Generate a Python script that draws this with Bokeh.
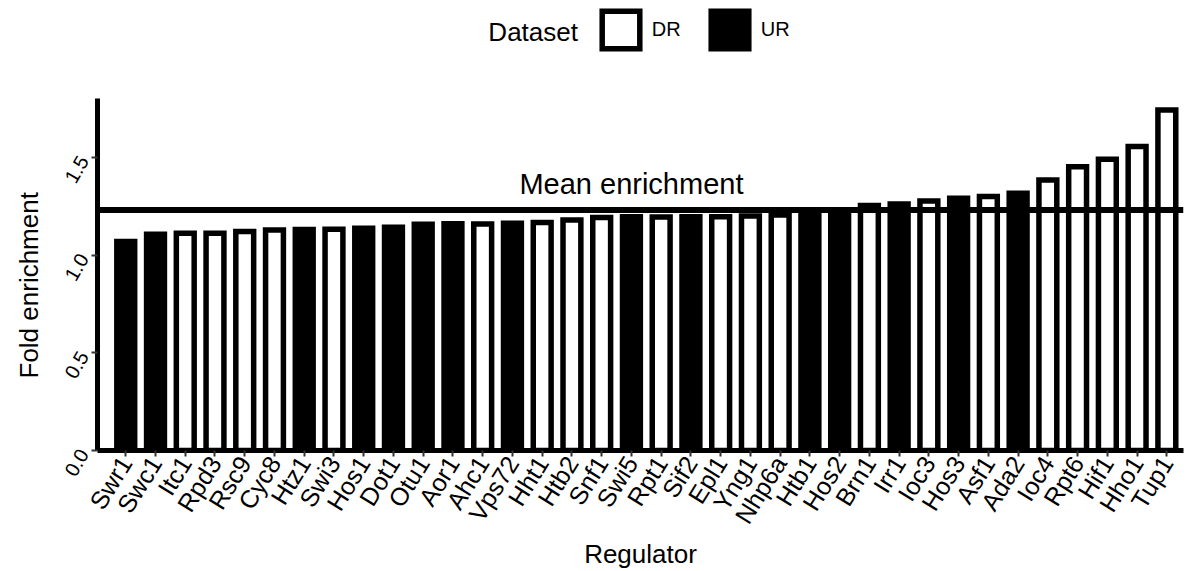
import math

from bokeh.embed import file_html
from bokeh.models import (ColumnDataSource, FixedTicker, Label, Legend, LegendItem,
                          NumeralTickFormatter, Range1d, Span, Title)
from bokeh.plotting import figure
from bokeh.resources import INLINE

# Regulators ordered by fold enrichment
regulators = ["Swr1", "Swc1", "Itc1", "Rpd3", "Rsc9", "Cyc8", "Htz1", "Swi3", "Hos1",
              "Dot1", "Otu1", "Aor1", "Ahc1", "Vps72", "Hht1", "Htb2", "Snf1", "Swi5",
              "Rpt1", "Sif2", "Epl1", "Yng1", "Nhp6a", "Htb1", "Hos2", "Brn1", "Irr1",
              "Ioc3", "Hos3", "Asf1", "Ada2", "Ioc4", "Rpt6", "Hif1", "Hho1", "Tup1"]

fold_enrichment = [1.069, 1.106, 1.111, 1.111, 1.120, 1.128, 1.130, 1.132, 1.137,
                   1.142, 1.157, 1.160, 1.159, 1.162, 1.166, 1.179, 1.192, 1.196,
                   1.194, 1.196, 1.196, 1.199, 1.204, 1.214, 1.219, 1.253, 1.261,
                   1.276, 1.290, 1.299, 1.316, 1.384, 1.452, 1.490, 1.555, 1.742]

dataset = ["UR", "UR", "DR", "DR", "DR", "DR", "UR", "DR", "UR",
           "UR", "UR", "UR", "DR", "UR", "DR", "DR", "DR", "UR",
           "DR", "UR", "DR", "DR", "DR", "UR", "UR", "DR", "UR",
           "DR", "UR", "DR", "UR", "DR", "DR", "DR", "DR", "DR"]

dataset_names = ["DR", "UR"]
dataset_fills = ["white", "black"]

y_ticks = [0.0, 0.5, 1.0, 1.5]
y_axis_max = 1.80

FONT = "Liberation Sans"

mean_enrichment = sum(fold_enrichment) / len(fold_enrichment)

# The plotting frame reaches the top of the canvas so the legend row above the
# bars can sit inside it; the y axis itself is bounded to 0..1.8.
p = figure(width=1186, height=571, output_backend="svg", toolbar_location=None,
           x_range=Range1d(-0.95, 35.56), y_range=Range1d(0, 2.3018),
           min_border_left=95, min_border_right=3, min_border_top=0,
           min_border_bottom=121)
p.outline_line_color = None
p.xgrid.visible = False
p.ygrid.visible = False
p.background_fill_color = "white"
p.border_fill_color = "white"

# Bars, one renderer per dataset
renderers = {}
for name, fill in zip(dataset_names, dataset_fills):
    idx = [i for i, d in enumerate(dataset) if d == name]
    src = ColumnDataSource(dict(x=idx, top=[fold_enrichment[i] for i in idx]))
    renderers[name] = p.vbar(x="x", top="top", bottom=0, width=0.6, source=src,
                             fill_color=fill, line_color="black", line_width=5.5,
                             line_join="miter")

# Mean line and its caption
p.add_layout(Span(location=mean_enrichment, dimension="width",
                  line_color="black", line_width=6))
p.add_layout(Label(x=17, y=mean_enrichment, y_offset=25.5, text="Mean enrichment",
                   text_align="center", text_baseline="alphabetic",
                   text_font=FONT, text_font_size="29px", text_color="black"))

# Axes
for ax in (p.xaxis[0], p.yaxis[0]):
    ax.axis_line_width = 5
    ax.axis_line_color = "black"
    ax.major_tick_in = 0
    ax.major_tick_out = 6
    ax.major_tick_line_width = 2
    ax.major_tick_line_color = "#333333"
    ax.minor_tick_line_color = None
    ax.major_label_text_font = FONT
    ax.major_label_text_color = "black"
    ax.axis_label_text_font = FONT
    ax.axis_label_text_font_size = "26px"
    ax.axis_label_text_font_style = "normal"
    ax.axis_label_text_color = "black"

xa = p.xaxis[0]
xa.ticker = FixedTicker(ticks=list(range(len(regulators))))
xa.major_label_overrides = {i: n for i, n in enumerate(regulators)}
xa.major_label_orientation = math.radians(58)
xa.major_label_text_font_size = "25px"
xa.major_label_standoff = 2
xa.axis_label = "Regulator"
xa.axis_label_standoff = 0

ya = p.yaxis[0]
ya.bounds = (0, y_axis_max)
ya.ticker = FixedTicker(ticks=y_ticks)
ya.formatter = NumeralTickFormatter(format="0.0")
ya.major_label_orientation = math.radians(60)
ya.major_label_text_font_size = "20px"
ya.major_label_standoff = 8

# y axis title, placed along the bounded axis rather than the whole frame
p.add_layout(Title(text="Fold enrichment", align="left", offset=72,
                   text_font=FONT, text_font_size="26px", text_font_style="normal",
                   text_color="black", standoff=22), "left")

# Legend row across the top
legend = Legend(items=[LegendItem(label=n, renderers=[renderers[n]]) for n in dataset_names],
                orientation="horizontal", location=(499.75, 396.65),
                glyph_width=47, glyph_height=47, label_standoff=8, label_width=38,
                spacing=16, padding=0, margin=0, border_line_color=None,
                background_fill_alpha=0, label_text_font=FONT,
                label_text_font_size="20px", label_text_color="black")
p.add_layout(legend)
p.add_layout(Label(x=12.19, y=2.143, text="Dataset",
                   text_align="left", text_baseline="middle", text_font=FONT,
                   text_font_size="26px", text_color="black"))

open("out.html", "w").write(file_html(p, INLINE))
